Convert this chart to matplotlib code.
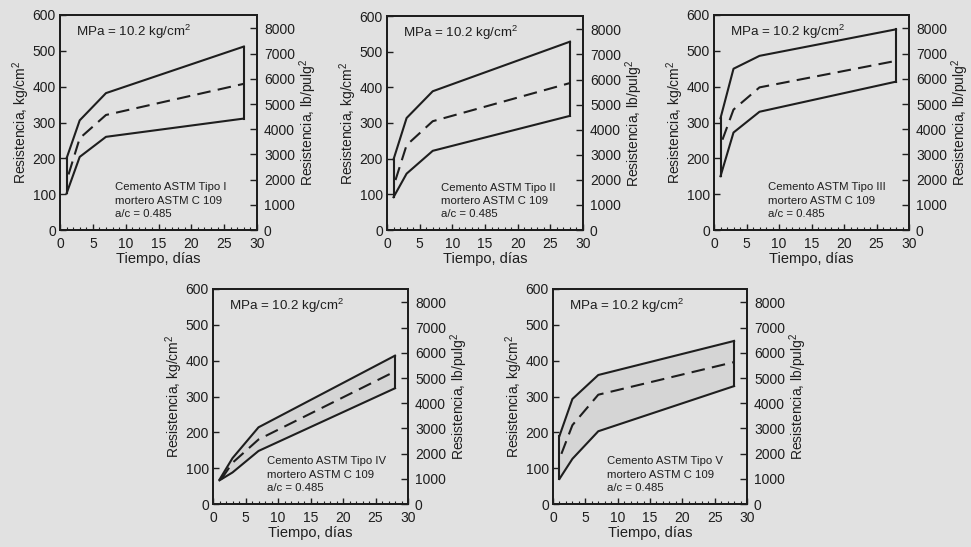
import matplotlib
matplotlib.use("Agg")
import matplotlib.pyplot as plt
from matplotlib.ticker import MultipleLocator

plt.rcParams['font.family'] = ['Liberation Sans', 'DejaVu Sans']
plt.rcParams['mathtext.fontset'] = 'custom'
plt.rcParams['mathtext.rm'] = 'Liberation Sans'
plt.rcParams['mathtext.it'] = 'Liberation Sans'

# Ages (days) of the envelope points
dias = [1, 3, 7, 28]
dias_medio = [1.3, 3, 7, 28]   # dashed curve starts a bit after day 1

tipos = ["I", "II", "III", "IV", "V"]

# Resistance envelopes, kg/cm2 (upper / lower solid, dashed mean)
superior = {
    "I":   [200, 306, 382, 512],
    "II":  [198, 314, 389, 528],
    "III": [312, 450, 486, 560],
    "IV":  [68, 128, 214, 414],
    "V":   [190, 293, 360, 455],
}
inferior = {
    "I":   [102, 204, 260, 311],
    "II":  [92, 158, 222, 320],
    "III": [150, 272, 330, 414],
    "IV":  [66, 88, 148, 323],
    "V":   [70, 126, 203, 329],
}
medio = {
    "I":   [155, 256, 321, 408],
    "II":  [140, 238, 305, 412],
    "III": [252, 336, 398, 472],
    "IV":  [70, 115, 180, 370],
    "V":   [140, 220, 305, 396],
}

kg_a_psi = 14.22   # 1 kg/cm2 in lb/pulg2

W, H = 971, 547
bg = '#e1e1e1'
ink = '#1e1e1e'

# axes boxes in pixels: left, right, top, bottom
cajas = {
    "I":   (60, 257, 15, 230),
    "II":  (387, 583, 16, 230),
    "III": (714, 909, 15, 230),
    "IV":  (213, 408, 289, 504),
    "V":   (553, 747, 289, 504),
}
sombreado = {"I": False, "II": False, "III": False, "IV": True, "V": True}

fig = plt.figure(figsize=(W / 100, H / 100), dpi=100, facecolor=bg)

for t in tipos:
    l, r, tp, b = cajas[t]
    ax = fig.add_axes([l / W, (H - b) / H, (r - l) / W, (b - tp) / H])
    ax.set_facecolor(bg)
    ax.set_xlim(0, 30)
    ax.set_ylim(0, 600)

    if sombreado[t]:
        ax.fill_between(dias, inferior[t], superior[t], color='#d5d5d5', lw=0, zorder=1)
    ax.plot(dias, superior[t], color=ink, lw=1.5, zorder=3)
    ax.plot(dias, inferior[t], color=ink, lw=1.5, zorder=3)
    ax.plot([dias[0], dias[0]], [inferior[t][0], superior[t][0]], color=ink, lw=1.5, zorder=3)
    ax.plot([dias[-1], dias[-1]], [inferior[t][-1], superior[t][-1]], color=ink, lw=1.5, zorder=3)
    ax.plot(dias_medio, medio[t], color=ink, lw=1.5, linestyle=(0, (6.5, 3.5)), zorder=3)

    for s in ax.spines.values():
        s.set_linewidth(1.4)
        s.set_color(ink)

    ax.xaxis.set_major_locator(MultipleLocator(5))
    ax.xaxis.set_minor_locator(MultipleLocator(1))
    ax.yaxis.set_major_locator(MultipleLocator(100))
    ax.tick_params(axis='both', which='major', direction='in', length=4, width=1,
                   labelsize=10, colors=ink, pad=3)
    ax.tick_params(axis='x', which='major', pad=5)
    ax.tick_params(axis='x', which='minor', direction='in', length=2.5, width=0.8, colors=ink)
    ax.set_xlabel("Tiempo, días", fontsize=10.5, color=ink, labelpad=1)
    ax.set_ylabel("Resistencia, kg/cm$^{2}$", fontsize=10, color=ink, labelpad=0)

    ax2 = ax.twinx()
    ax2.set_ylim(0, 600 * kg_a_psi)
    ax2.yaxis.set_major_locator(MultipleLocator(1000))
    ax2.tick_params(axis='y', direction='in', length=5, width=1, labelsize=10,
                    colors=ink, pad=5)
    ax2.set_ylabel("Resistencia, lb/pulg$^{2}$", fontsize=10, color=ink, labelpad=2)
    for s in ax2.spines.values():
        s.set_linewidth(1.4)
        s.set_color(ink)

    ax.text(2.4, 553, "MPa = 10.2 kg/cm$^{2}$", fontsize=9.6, color=ink, va='center', ha='left')
    ax.text(8.3, 82, "Cemento ASTM Tipo " + t + "\nmortero ASTM C 109\na/c = 0.485",
            fontsize=8.2, color=ink, va='center', ha='left', linespacing=1.4)

fig.savefig("out.png", dpi=100, facecolor=bg)
